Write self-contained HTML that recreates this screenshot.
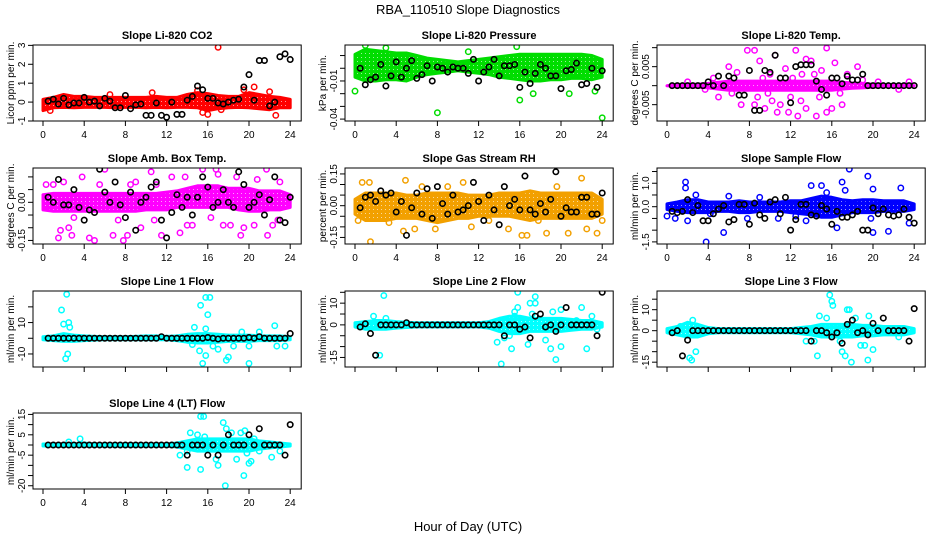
<!DOCTYPE html>
<html><head><meta charset="utf-8"><title>RBA_110510 Slope Diagnostics</title>
<style>
html,body{margin:0;padding:0;background:#fff;}
svg{display:block;font-family:"Liberation Sans",sans-serif;}
</style></head>
<body>
<svg id="chart" width="936" height="540" viewBox="0 0 936 540" xmlns="http://www.w3.org/2000/svg">
<text x="468" y="14" font-size="13" text-anchor="middle">RBA_110510  Slope Diagnostics</text>
<text x="468" y="531" font-size="13" text-anchor="middle">Hour of Day (UTC)</text>
</svg>
<script>
// ---- shared categories ----
const bandHours = [0,1,2,3,4,5,6,7,8,9,10,11,12,13,14,15,16,17,18,19,20,21,22,23,24];
const meanHours = [0.5,1,1.5,2,2.5,3,3.5,4,4.5,5,5.5,6,6.5,7,7.5,8,8.5,9,9.5,10,10.5,11,11.5,12,12.5,13,13.5,14,14.5,15,15.5,16,16.5,17,17.5,18,18.5,19,19.5,20,20.5,21,21.5,22,22.5,23,23.5,24];
const xTickLabels = ["0","4","8","12","16","20","24"];

// ---- P1 CO2 ----
const p1Lo = [-0.45,-0.3,-0.28,-0.3,-0.28,-0.28,-0.28,-0.3,-0.28,-0.28,-0.3,-0.28,-0.3,-0.28,-0.28,-0.3,-0.45,-0.35,-0.3,-0.28,-0.3,-0.35,-0.4,-0.3,-0.3];
const p1Hi = [0.15,0.25,0.4,0.3,0.3,0.25,0.25,0.25,0.25,0.25,0.25,0.3,0.25,0.25,0.4,0.5,0.45,0.35,0.3,0.3,0.5,0.4,0.3,0.25,0.15];
const p1OutX = [17,19.5,20.5,22.6,16,15.5,15,17.3,0.7,22,10.6,6.5];
const p1OutY = [2.9,0.65,0.8,-0.7,-0.65,-0.55,0.6,-0.4,-0.45,0.55,0.5,0.4];
const p1Mean = [0.05,0.15,-0.1,0.2,-0.15,-0.05,-0.05,0.25,0,0.05,-0.2,0.2,0.05,-0.3,-0.3,0.35,-0.35,-0.15,-0.1,-0.7,-0.7,-0.05,-0.7,-0.8,0,-0.65,-0.65,0.1,0.3,0.85,0.65,0.2,0.2,-0.05,-0.1,0,0.1,0.15,0.8,1.45,0.1,2.2,2.2,-0.2,0,2.4,2.55,2.25];
const p1Ticks = [-1,0,1,2,3];
const p1TickLabels = ["-1","0","1","2","3"];

// ---- P2 Pressure ----
const p2Lo = [-0.007,-0.01,-0.01,-0.009,-0.009,-0.01,-0.007,-0.005,-0.004,-0.003,-0.002,-0.003,-0.004,-0.005,-0.007,-0.008,-0.009,-0.01,-0.01,-0.009,-0.009,-0.008,-0.008,-0.009,-0.007];
const p2Hi = [0.011,0.015,0.014,0.013,0.012,0.012,0.01,0.008,0.007,0.006,0.005,0.006,0.007,0.008,0.009,0.01,0.011,0.011,0.011,0.011,0.011,0.011,0.011,0.01,0.007];
const p2OutX = [0,8,24,16,17.3,20.8,23.3,11,15.7,3,1];
const p2OutY = [-0.018,-0.035,-0.039,-0.025,-0.02,-0.02,-0.018,0.013,0.017,0.016,0.018];
const p2Mean = [0,-0.013,-0.009,-0.007,0.003,-0.014,-0.006,0.005,-0.007,0,0.006,-0.008,-0.005,0.002,-0.01,0.001,0,-0.003,0.001,0,0,-0.004,0.007,-0.01,-0.003,0.001,0.007,-0.006,0.002,0.002,0.003,-0.015,-0.003,-0.012,-0.004,0.003,0,-0.006,-0.006,-0.016,-0.002,-0.001,0.004,-0.013,-0.012,0,-0.015,-0.002];
const p2Ticks = [0.01,0,-0.01,-0.02,-0.03,-0.04];
const p2TickLabels = ["","","-0.01","","","-0.04"];

// ---- P3 Temp ----
const p3Lo = [0,-0.0003,-0.0004,-0.0004,-0.0006,-0.0009,-0.0012,-0.0012,-0.0012,-0.0012,-0.0012,-0.0012,-0.0012,-0.0012,-0.0012,-0.0012,-0.0012,-0.0009,-0.0007,-0.0006,-0.0004,-0.0003,-0.0003,-0.0003,0];
const p3Hi = [0,0.0003,0.0004,0.0004,0.0006,0.0009,0.0012,0.0012,0.0012,0.0012,0.0012,0.0012,0.0012,0.0012,0.0012,0.0012,0.0012,0.0009,0.0007,0.0006,0.0004,0.0003,0.0003,0.0003,0];
const p3OutX = [7.8,8.5,12.5,15.5,10.5,9,14,13.5,18.5,16.3,6,11.5,10.7,12.7,11.8,13.5,15.5,14.5,9.5,8.5,7.2,5,17,16,11,13,9.8,12.2,15,17.5,6.8,14.8,10,20.5,19,23.5,22.5,4.5,3.7,2,8.8,12,14.3,16.8,10.2,6.3,9.3,13.1];
const p3OutY = [0.0093,0.0093,0.0093,0.0099,0.008,0.0065,0.0065,0.007,0.005,0.006,0.005,0.0045,-0.007,-0.008,-0.007,-0.006,-0.007,-0.008,-0.006,-0.005,-0.005,-0.003,-0.005,-0.006,-0.005,-0.004,-0.002,0.002,0.004,0.003,0.0035,-0.003,0.003,0.001,0.0015,0.001,-0.001,0.002,-0.001,0.001,-0.003,-0.003,0.003,-0.002,-0.004,-0.002,0.002,0.003];
const p3Mean = [0,0,0,0,0,0,0,0.001,0,0.0025,0,0.0025,0.002,-0.0025,-0.0025,0.004,-0.0065,-0.0065,0.004,0.0035,0.008,0.002,0.002,-0.0045,0.005,0.0055,0.0055,0.0055,0.0012,-0.001,-0.0025,0.002,0.002,0.0005,0.0025,0.0015,0.0015,0.003,0,0,0,0,0,0,0,0,0,0];
const p3Ticks = [0.01,0.005,0,-0.005];
const p3TickLabels = ["","0.005","","-0.005"];

// ---- P4 Amb Box Temp ----
const p4Lo = [-0.03,-0.035,-0.035,-0.035,-0.035,-0.035,-0.035,-0.035,-0.035,-0.035,-0.03,-0.03,-0.03,-0.02,-0.02,-0.02,-0.02,-0.02,-0.02,-0.03,-0.035,-0.035,-0.03,-0.03,-0.02];
const p4Hi = [0.03,0.035,0.035,0.035,0.035,0.035,0.035,0.035,0.035,0.035,0.035,0.035,0.04,0.045,0.055,0.065,0.065,0.065,0.055,0.055,0.055,0.045,0.045,0.045,0.03];
const p4OutX = [0.3,1,2.8,1.5,2.5,4.5,5,6.8,7.8,8.2,6,10.5,9.5,11.5,13.3,14,14.5,15.5,16.3,16.8,17.5,18.2,19.2,19.5,21.7,21.8,22.3,20.5,12.5,3.8,1.7,23,9,2,5.5,7.3,10.8,13.8,18.8,22.8,3,8.5,11,17,20.8];
const p4OutY = [0.07,0.07,-0.13,-0.14,-0.1,-0.14,-0.15,-0.13,-0.15,-0.13,0.13,0.12,-0.1,-0.13,-0.12,-0.09,-0.09,0.13,-0.06,0.13,-0.09,-0.09,-0.13,-0.1,0.13,-0.13,-0.09,-0.09,0.1,0.1,-0.11,0.08,0.08,0.08,0.07,-0.07,-0.07,0.1,0.1,-0.07,-0.06,0.07,0.07,0.11,0.09];
const p4Mean = [0.02,0,0.09,-0.01,-0.01,0.05,-0.02,-0.07,-0.03,-0.04,0.13,0.04,0,0.08,-0.01,-0.06,0.04,-0.11,0,0.02,0.06,0.08,-0.07,-0.14,-0.04,0.03,-0.02,0.02,-0.05,0.02,0.1,0.06,-0.02,0,0.05,0,-0.02,0.12,0.07,-0.02,0,0.03,-0.05,0.01,0.1,-0.07,-0.08,0.02];
const p4Ticks = [0.1,0.05,0,-0.05,-0.1,-0.15];
const p4TickLabels = ["","","0.00","","","-0.15"];

// ---- P5 Gas Stream RH ----
const p5Lo = [-0.04,-0.07,-0.07,-0.07,-0.06,-0.06,-0.06,-0.07,-0.08,-0.07,-0.06,-0.06,-0.05,-0.05,-0.05,-0.05,-0.06,-0.07,-0.06,-0.06,-0.06,-0.06,-0.06,-0.06,-0.04];
const p5Hi = [0.03,0.06,0.06,0.06,0.06,0.05,0.05,0.06,0.06,0.06,0.06,0.05,0.05,0.05,0.06,0.06,0.06,0.07,0.06,0.06,0.06,0.06,0.06,0.06,0.03];
const p5OutX = [0.7,1.4,1.5,0.3,4.9,4.7,5.8,9,10.5,11.3,14.9,16.2,16.7,18.6,19.6,20.7,22,22.5,23.5,24,7.8,6.5,13,17.8,3.3];
const p5OutY = [0.11,0.11,-0.17,-0.07,0.12,-0.12,-0.11,0.09,0.11,-0.1,-0.11,-0.14,-0.14,-0.13,0.09,-0.13,0.13,-0.11,-0.13,-0.07,-0.11,0.09,-0.07,-0.07,-0.08];
const p5Mean = [-0.01,0.04,0.05,0.02,0.07,0.05,0.06,-0.03,0.02,-0.14,-0.01,0.06,-0.04,0.08,-0.06,0.09,0.01,-0.04,0.05,-0.03,-0.02,0,0.11,0.02,-0.07,0.05,-0.02,-0.09,0.09,0,0.03,-0.02,0.14,-0.02,-0.04,0.01,-0.03,0.03,0.16,-0.05,-0.01,-0.03,-0.03,0.04,0.04,-0.04,-0.04,0.06];
const p5Ticks = [0.15,0.1,0.05,0,-0.05,-0.1,-0.15];
const p5TickLabels = ["0.15","","","0.00","","","-0.15"];

// ---- P6 Sample Flow ----
const p6Lo = [-0.12,-0.2,-0.25,-0.25,-0.25,-0.2,-0.2,-0.25,-0.25,-0.2,-0.2,-0.2,-0.25,-0.3,-0.35,-0.45,-0.45,-0.35,-0.25,-0.25,-0.25,-0.2,-0.2,-0.2,-0.12];
const p6Hi = [0.12,0.2,0.3,0.3,0.2,0.2,0.2,0.25,0.2,0.2,0.2,0.2,0.25,0.25,0.35,0.45,0.4,0.3,0.25,0.3,0.3,0.25,0.25,0.25,0.12];
const p6OutX = [1.8,1.8,3.8,5.5,2,2.8,7.8,9,10.8,12.5,14,15,15.5,16.5,17,17.3,17.7,19.5,20,19.8,20,21.5,22.7,23.5,13.5,0,0.8,4.2,6];
const p6OutY = [1.05,0.8,-1.5,-1.1,-0.6,0.5,-0.5,0.4,-0.5,-0.4,0.9,0.9,0.6,-0.9,1.05,0.7,1.6,1.3,0.75,-0.5,-1.1,-1.05,0.8,-0.7,-0.6,-0.4,-0.5,-0.3,0.45];
const p6Mean = [-0.2,-0.25,-0.2,0.3,-0.25,0.05,-0.6,-0.6,-0.3,-0.1,0.05,-0.65,-0.55,0.1,0.1,-0.75,0.15,-0.35,-0.5,0.2,0.3,-0.3,0.4,-1,-0.55,0.1,0.1,-0.35,-0.4,0.05,-0.1,-0.75,-0.2,-0.45,-0.45,-0.35,-0.2,-1,-1,-0.05,-0.3,-0.1,-0.35,-0.4,-0.35,-0.1,-0.45,-0.7];
const p6Ticks = [1.5,1,0.5,0,-0.5,-1,-1.5];
const p6TickLabels = ["","1.0","","0.0","","","-1.5"];

// ---- P7 Line 1 Flow ----
const p7Lo = [-1,-1.5,-2,-2,-1.5,-1.2,-1,-1,-1,-1,-1,-1,-1,-1.5,-2.5,-3,-3,-2.5,-2,-2,-2,-1.5,-1.5,-1.5,-1];
const p7Hi = [1,1.5,3,2,1.5,1.2,1,1,1,1.2,1.5,1.5,1.2,1.5,2.5,3,3,2.5,2,2,2,1.5,1.5,1.5,1];
const p7OutX = [2.3,1.8,2,2.5,2.6,2.2,2.4,15.8,16.2,15.3,16,14.7,15.8,15.2,15.5,15.8,17,17.8,18,19.3,20,20,22.5,23.5,22.7,18.5,21,16.5,14.5];
const p7OutY = [28,18,9,10,7,-13,-10,26,26,21,15,7,6,-8,-16,-11,-7,-14,-12,4,-16,-5,8,-5,-5,-5,4,-5,-4];
const p7Mean = [0,0,0,0,0,0,0,0,0,0,0,0,0,0,0,0,0,0,0,0,0,0,1,0,0,0,0,0,0,0,0,0.5,0,-0.5,0,0,0,0,0,0.5,0,1,0,0,0,0,0,3];
const p7Ticks = [20,10,0,-10];
const p7TickLabels = ["","10","","-10"];

// ---- P8 Line 2 Flow ----
const p8Lo = [-1,-2,-2,-2,-1.5,-1.2,-1,-1,-1,-1,-1,-1,-1,-1.5,-3,-4,-4,-3,-3,-3,-3,-2.5,-2,-2,-1];
const p8Hi = [1,1.5,2,2,1.5,1.2,1,1,1,1,1,1,1,1.5,3,4,4,3,3,3,3,2.5,2,2,1];
const p8OutX = [2.8,2.4,1.8,3,14.2,13.8,14.5,15,15.2,15.5,15.8,15.8,15.5,16.8,17,17.5,17.5,18.5,19,19.2,19.5,20,20,21.5,22,22.5,23,23.5,17.2];
const p8OutY = [13.5,-14,4,3,-18,-8,-6,-5,-11,4,15,8,6,-9,10,13,10,-7,-11,6,-16,7,-10,2,8,-11,4,-2,5];
const p8Mean = [-1,0.5,-4,-14,0,0,0,0,0,1,0,0,0,0,0,0,0,0,0,0,0,0,0,0,0,0,0,0,-5,0,0,-2,-1,-6,4,5,-1,0,-3,0,8,0,0,0,0,0,-5,15];
const p8Ticks = [15,10,5,0,-5,-10,-15];
const p8TickLabels = ["","10","","0","","","-15"];

// ---- P9 Line 3 Flow ----
const p9Lo = [-1,-2,-3,-3,-1.5,-1,-1,-1,-1,-1,-1,-1,-1,-1.5,-2,-3,-3,-3,-3,-2.5,-2.5,-2,-2,-2,-1];
const p9Hi = [1,2,4,3,1.5,1,1,1,1,1,1,1,1,1.5,2,3,3,3,3,2.5,2.5,2,2,2,1];
const p9OutX = [2.5,2.2,2.4,2.8,1.3,14.6,14.3,14.8,15.5,15.8,16,16.1,16.8,17,17.3,17.5,17.7,17.9,18.3,18.8,19.2,19.5,19.6,20,21,22.5,13.5];
const p9OutY = [5,-13,-14,-10,2,-12,-5,7,6,17,14,12,-5,-10,-12,10,10,-15,6,-7,-7,-14,7,-9,-1,-3,-5];
const p9Mean = [-1,0,-12,-4.5,0,0,0,0,0,0,0,0,0,0,0,0,0,0,0,0,0,0,0,0,0,0,0,-5,0,0,-1,-3,-1,-6,3,5,-1,0,-2,3.5,0,6,0,0,0,0,-5,10.5];
const p9Ticks = [15,10,5,0,-5,-10,-15];
const p9TickLabels = ["","10","","0","","","-15"];

// ---- P10 Line 4 Flow ----
const p10Lo = [-0.5,-0.5,-0.5,-0.5,-0.5,-0.5,-0.5,-0.5,-0.5,-0.5,-0.5,-0.5,-0.5,-1,-2,-3,-3,-3,-3,-3,-3,-2,-1.5,-1,-0.5];
const p10Hi = [0.5,0.5,0.5,0.5,1,0.5,0.5,0.5,0.5,0.5,0.5,0.5,0.5,1,2,3,3,3,3,3,3,2,1.5,1,0.5];
const p10OutX = [3.6,2.5,14,13.3,14.3,15,15.3,15.6,15.3,15.7,16,16.8,17,17,17.5,17.8,17.7,18.3,18.8,19.2,19.5,19.6,20,20.2,20.5,21,22.2,23,19.8,14];
const p10OutY = [3,1.5,-11,-5,6,5,14,14,-12,4,2,-7,-10,-2,11,8,-20,6,-7,6,-15,7,-9,-8,3,-3,-6,-3,-4,-3];
const p10Mean = [0,0,0,0,0,0,0,0,0,0,0,0,0,0,0,0,0,0,0,0,0,0,0,0,0,0,0,-5,0,0,0,-5,0,-5,0,5,0,0,0,5,0,8,0,0,0,0,-5,10];
const p10Ticks = [15,10,5,0,-5,-10,-15,-20];
const p10TickLabels = ["15","","5","","-5","","","-20"];

// ---- layout ----
const NS = "http://www.w3.org/2000/svg";
const svg = document.getElementById('chart');
const colX0 = [43, 355, 667];
const rowTop = [45, 168, 291, 413];
const plotH = 76, pxPerHr = 10.3;

const panels = [
 {name:'co2', title:'Slope Li-820 CO2', yTitle:'Licor ppm per min.', col:0,row:0, ymin:-1.0, ymax:3.02, color:'#ff0000', lo:p1Lo,hi:p1Hi,ox:p1OutX,oy:p1OutY,mean:p1Mean,ticks:p1Ticks,tl:p1TickLabels,xl:true},
 {name:'pressure', title:'Slope Li-820 Pressure', yTitle:'kPa per min.', col:1,row:0, ymin:-0.0415, ymax:0.0183, color:'#00dd00', lo:p2Lo,hi:p2Hi,ox:p2OutX,oy:p2OutY,mean:p2Mean,ticks:p2Ticks,tl:p2TickLabels,xl:true},
 {name:'temp', title:'Slope Li-820 Temp.', yTitle:'degrees C per min.', col:2,row:0, ymin:-0.0093, ymax:0.0107, color:'#ff00ff', lo:p3Lo,hi:p3Hi,ox:p3OutX,oy:p3OutY,mean:p3Mean,ticks:p3Ticks,tl:p3TickLabels,xl:true},
 {name:'amb-box-temp', title:'Slope Amb. Box Temp.', yTitle:'degrees C per min.', col:0,row:1, ymin:-0.164, ymax:0.135, color:'#ff00ff', lo:p4Lo,hi:p4Hi,ox:p4OutX,oy:p4OutY,mean:p4Mean,ticks:p4Ticks,tl:p4TickLabels,xl:true},
 {name:'gas-stream-rh', title:'Slope Gas Stream RH', yTitle:'percent per min.', col:1,row:1, ymin:-0.181, ymax:0.178, color:'#f2a000', lo:p5Lo,hi:p5Hi,ox:p5OutX,oy:p5OutY,mean:p5Mean,ticks:p5Ticks,tl:p5TickLabels,xl:true},
 {name:'sample-flow', title:'Slope Sample Flow', yTitle:'ml/min per min.', col:2,row:1, ymin:-1.59, ymax:1.65, color:'#0000ff', lo:p6Lo,hi:p6Hi,ox:p6OutX,oy:p6OutY,mean:p6Mean,ticks:p6Ticks,tl:p6TickLabels,xl:true},
 {name:'line1-flow', title:'Slope Line 1 Flow', yTitle:'ml/min per min.', col:0,row:2, ymin:-18.3, ymax:30.1, color:'#00ffff', lo:p7Lo,hi:p7Hi,ox:p7OutX,oy:p7OutY,mean:p7Mean,ticks:p7Ticks,tl:p7TickLabels,xl:false},
 {name:'line2-flow', title:'Slope Line 2 Flow', yTitle:'ml/min per min.', col:1,row:2, ymin:-19.4, ymax:15.6, color:'#00ffff', lo:p8Lo,hi:p8Hi,ox:p8OutX,oy:p8OutY,mean:p8Mean,ticks:p8Ticks,tl:p8TickLabels,xl:false},
 {name:'line3-flow', title:'Slope Line 3 Flow', yTitle:'ml/min per min.', col:2,row:2, ymin:-17.3, ymax:18.9, color:'#00ffff', lo:p9Lo,hi:p9Hi,ox:p9OutX,oy:p9OutY,mean:p9Mean,ticks:p9Ticks,tl:p9TickLabels,xl:false},
 {name:'line4-flow', title:'Slope Line 4 (LT) Flow', yTitle:'ml/min per min.', col:0,row:3, ymin:-21.6, ymax:15.7, color:'#00ffff', lo:p10Lo,hi:p10Hi,ox:p10OutX,oy:p10OutY,mean:p10Mean,ticks:p10Ticks,tl:p10TickLabels,xl:true}
];

function mk(tag, attrs, parent){
  const e = document.createElementNS(NS, tag);
  for (const k in attrs) e.setAttribute(k, attrs[k]);
  parent.appendChild(e);
  return e;
}

// speckle pattern (white dots) to mimic overlapping open circles
const defs = mk('defs', {}, svg);

panels.forEach(p => {
  const x0 = colX0[p.col], top = rowTop[p.row], bot = top + plotH;
  const left = x0 - 10, right = x0 + 24*pxPerHr + 11;
  const xs = v => x0 + v*pxPerHr;
  const ys = v => bot - (v - p.ymin)/(p.ymax - p.ymin)*plotH;

  const patId = 'pat-' + p.name;
  const pat = mk('pattern', {id:patId, width:4, height:4, patternUnits:'userSpaceOnUse'}, defs);
  mk('rect', {x:0, y:0, width:4, height:4, fill:p.color}, pat);
  mk('rect', {x:1, y:1, width:1, height:1, fill:'#ffffff', opacity:0.6}, pat);

  const g = mk('g', {}, svg);
  
  

  const t = mk('text', {x:(left+right)/2, y:top-6, 'font-size':11, 'font-weight':'bold', 'text-anchor':'middle'}, g);
  t.textContent = p.title;
  
  

  const clipId = 'clip-' + p.name;
  const cp = mk('clipPath', {id:clipId}, g);
  mk('rect', {x:left, y:top, width:right-left, height:plotH}, cp);
  const plot = mk('g', {'clip-path':'url(#'+clipId+')'}, g);
  
  

  // dense band of coloured points (hourly envelope)
  let d = '';
  bandHours.forEach((h,i) => { d += (i? 'L':'M') + xs(h).toFixed(1) + ',' + ys(p.hi[i]).toFixed(1); });
  for (let i = bandHours.length-1; i >= 0; i--) d += 'L' + xs(bandHours[i]).toFixed(1) + ',' + ys(p.lo[i]).toFixed(1);
  d += 'Z';
  const band = mk('path', {d:d, fill:'url(#'+patId+')', stroke:p.color, 'stroke-width':3, 'stroke-linejoin':'round'}, plot);
  
  

  // scattered coloured points
  p.ox.forEach((xv,i) => {
    const c = mk('circle', {cx:xs(xv), cy:ys(p.oy[i]), r:2.7, fill:'none', stroke:p.color, 'stroke-width':1.5}, plot);
    
    
  });
  // black points
  p.mean.forEach((v,i) => {
    const c = mk('circle', {cx:xs(meanHours[i]), cy:ys(v), r:2.7, fill:'none', stroke:'#000', 'stroke-width':1.6}, plot);
    
    
  });

  // box
  const box = mk('rect', {x:left, y:top, width:right-left, height:plotH, fill:'none', stroke:'#000', 'stroke-width':1}, g);
  
  

  // y axis
  const yt = p.ticks.map(ys);
  const ya = mk('line', {x1:left, x2:left, y1:Math.min(...yt), y2:Math.max(...yt), stroke:'#000'}, g);
  
  
  p.ticks.forEach((tv,i) => {
    const y = ys(tv);
    mk('line', {x1:left-5, x2:left, y1:y, y2:y, stroke:'#000'}, g);
    if (p.tl[i]) {
      const tx = mk('text', {x:0, y:0, 'font-size':10, 'text-anchor':'middle', transform:'translate('+(left-8)+','+y+') rotate(-90)'}, g);
      tx.textContent = p.tl[i];
      
      
    }
  });
  const ytl = mk('text', {x:0, y:0, 'font-size':10, 'text-anchor':'middle', transform:'translate('+(left-19)+','+(top+plotH/2)+') rotate(-90)'}, g);
  ytl.textContent = p.yTitle;
  
  

  // x axis
  const xa = mk('line', {x1:xs(0), x2:xs(24), y1:bot, y2:bot, stroke:'#000'}, g);
  
  
  xTickLabels.forEach(lab => {
    const x = xs(parseFloat(lab));
    mk('line', {x1:x, x2:x, y1:bot, y2:bot+5, stroke:'#000'}, g);
    if (p.xl) {
      const tx = mk('text', {x:x, y:bot+17, 'font-size':10, 'text-anchor':'middle'}, g);
      tx.textContent = lab;
      
      
    }
  });
});
</script>
</body></html>
